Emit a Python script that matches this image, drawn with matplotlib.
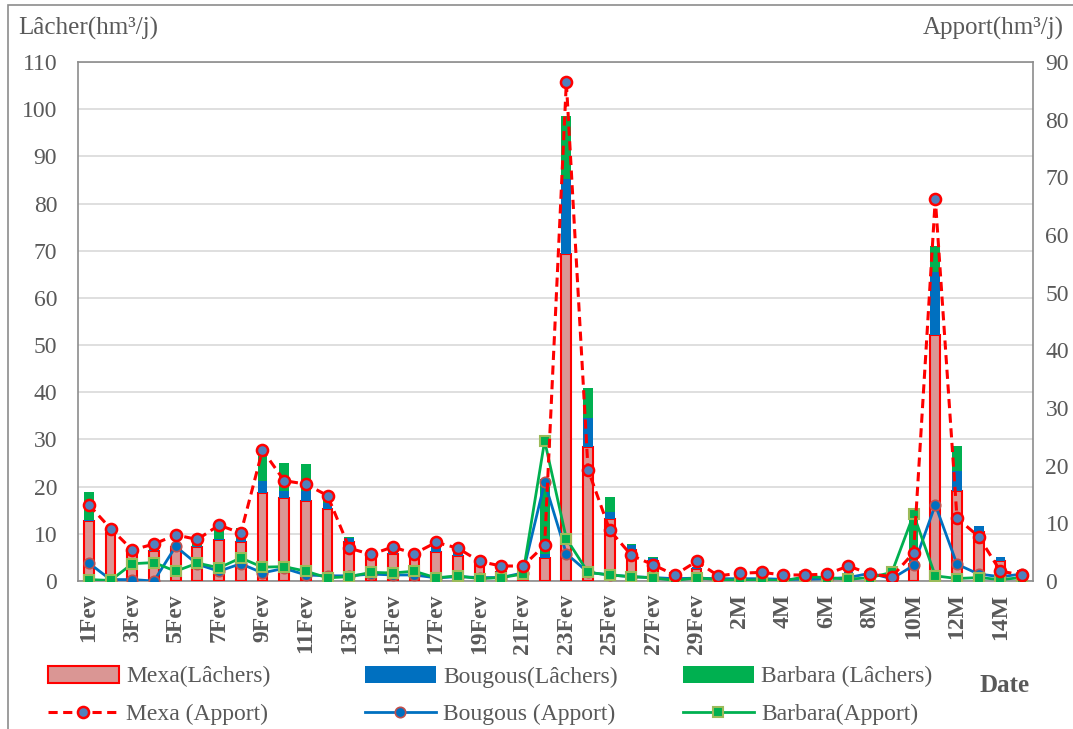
import numpy as np
import matplotlib
matplotlib.use('Agg')
import matplotlib.pyplot as plt
from matplotlib.patches import Patch, Rectangle
from matplotlib.lines import Line2D

plt.rcParams['font.family'] = ['Liberation Serif', 'DejaVu Serif']

# dates : 1 -> 29 février, puis 1 -> 15 mars
dates = [f"{d}Fev" for d in range(1, 30)] + [f"{d}M" for d in range(1, 16)]

# lâchers (hm3/j), barres empilées
mexa_lacher = [12.8, 10.1, 6.6, 6.4, 7.3, 7.2, 8.6, 8.2, 18.6, 17.5, 16.9, 15.2, 8.2, 5.8, 5.8,
               4.9, 6.2, 5.4, 3.5, 2.0, 1.3, 4.8, 69.2, 28.5, 13.1, 6.6, 4.2, 1.7, 2.6,
               1.3, 1.3, 1.3, 1.2, 1.0, 1.0, 1.3, 1.2, 1.2, 3.5, 52.2, 19.0, 10.3, 4.2, 1.5]
bougous_lacher = [0.2, 0.2, 0.3, 0.2, 0.3, 0.3, 0.3, 0.6, 2.5, 1.5, 2.1, 1.4, 1.0, 0.6, 1.1,
                  0.3, 1.3, 1.2, 0.8, 0.6, 0.6, 1.0, 15.9, 6.0, 1.5, 1.1, 0.7, 0.3, 0.4,
                  0.2, 0.3, 0.2, 0.2, 0.3, 0.3, 0.6, 0.5, 0.3, 1.0, 13.2, 4.3, 1.4, 0.9, 0.9]
barbara_lacher = [5.8, 0.3, 0.2, 0.2, 0.2, 1.0, 2.1, 2.4, 6.6, 6.1, 5.9, 1.3, 0.1, 0.1, 0.1,
                  0.1, 0.1, 0.1, 0.1, 0.1, 0.1, 15.9, 13.4, 6.4, 3.1, 0.1, 0.1, 0.0, 0.0,
                  0.0, 0.0, 0.0, 0.0, 0.0, 0.0, 0.0, 0.0, 0.0, 9.6, 5.7, 5.3, 0.0, 0.0, 0.0]

# apports (hm3/j), axe de droite
mexa_apport = [13.2, 9.1, 5.4, 6.4, 8.0, 7.2, 9.7, 8.3, 22.7, 17.4, 16.8, 14.8, 5.7, 4.6, 5.9,
               4.75, 6.7, 5.7, 3.4, 2.6, 2.6, 6.2, 86.5, 19.3, 8.8, 4.45, 2.8, 1.05, 3.4,
               0.9, 1.35, 1.5, 1.05, 1.05, 1.2, 2.6, 1.2, 0.75, 4.9, 66.3, 10.9, 7.7, 1.7, 1.05]
bougous_apport = [3.1, 0.25, 0.25, 0.0, 6.0, 2.9, 1.7, 3.0, 1.4, 2.2, 1.05, 0.9, 0.9, 1.2, 1.05,
                  1.05, 0.55, 0.75, 0.6, 0.6, 1.4, 17.1, 4.75, 1.5, 1.05, 0.75, 0.6, 0.4, 0.5,
                  0.4, 0.4, 0.4, 0.3, 0.3, 0.4, 0.6, 1.35, 0.4, 2.7, 13.2, 2.9, 1.2, 0.75, 1.2]
barbara_apport = [0.25, 0.1, 3.0, 3.2, 1.7, 3.1, 2.3, 4.0, 2.4, 2.5, 1.7, 0.55, 0.75, 1.5, 1.4,
                  1.7, 0.55, 0.9, 0.4, 0.6, 1.2, 24.3, 7.35, 1.5, 1.05, 0.75, 0.55, 0.1, 0.55,
                  0.25, 0.1, 0.25, 0.0, 0.75, 0.6, 0.3, 0.6, 1.5, 11.55, 0.9, 0.43, 0.6, 0.25, 0.6]

GREY = '#595959'
C_MEXA_FILL = '#DA9694'
C_RED = '#FF0000'
C_BLUE = '#0070C0'
C_GREEN = '#00B050'

x = np.arange(len(dates))
m = np.array(mexa_lacher)
b = np.array(bougous_lacher)
g = np.array(barbara_lacher)

fig = plt.figure(figsize=(10.73, 7.29), dpi=100)
ax = fig.add_axes([0.0727, 0.203, 0.89, 0.712])

# barres empilées
w = 0.45
ax.bar(x, m, w, color=C_MEXA_FILL, edgecolor=C_RED, linewidth=1.5, zorder=3)
ax.bar(x, b, w, bottom=m, color=C_BLUE, linewidth=0, zorder=3)
ax.bar(x, g, w, bottom=m + b, color=C_GREEN, linewidth=0, zorder=3)

ax.set_xlim(-0.5, len(dates) - 0.5)
ax.set_ylim(0, 110)
ax.set_yticks(range(0, 111, 10))
ax.yaxis.grid(True, color='#D9D9D9', linewidth=1.2, zorder=0)
ax.set_axisbelow(True)
ax.set_xticks(x)
ax.set_xticklabels([d if i % 2 == 0 else '' for i, d in enumerate(dates)],
                   rotation=90, fontweight='bold', fontsize=17, color=GREY)
ax.tick_params(axis='x', length=0, pad=9)
ax.tick_params(axis='y', length=0, pad=15, labelsize=17, labelcolor=GREY)
for sp in ax.spines.values():
    sp.set_color('#8C8C8C')
    sp.set_linewidth(1.2)

# courbes des apports
ax2 = ax.twinx()
ax2.set_ylim(0, 90)
ax2.set_yticks(range(0, 91, 10))
ax2.tick_params(axis='y', length=0, pad=9, labelsize=17, labelcolor=GREY)
for sp in ax2.spines.values():
    sp.set_visible(False)

ax2.plot(x, bougous_apport, color=C_BLUE, lw=2, marker='o', ms=7.5,
         mfc=C_BLUE, mec='#C0504D', mew=1.2, zorder=4)
ax2.plot(x, barbara_apport, color=C_GREEN, lw=2, marker='s', ms=7,
         mfc=C_GREEN, mec='#9BBB59', mew=1.5, zorder=4)
ax2.plot(x, mexa_apport, color=C_RED, lw=2.2, ls=(0, (3, 1.8)), marker='o', ms=8,
         mfc='#4F81BD', mec=C_RED, mew=1.8, zorder=5)

# titres des axes
fig.text(18 / 1073, 1 - 28 / 729, 'Lâcher(hm³/j)', fontsize=18, color=GREY, va='center', ha='left')
fig.text(923 / 1073, 1 - 28 / 729, 'Apport(hm³/j)', fontsize=18, color=GREY, va='center', ha='left')
fig.text(1005 / 1073, 1 - 686 / 729, 'Date', fontsize=18, fontweight='bold', color=GREY,
         va='center', ha='center')

# cadre extérieur
fig.add_artist(Rectangle((8 / 1073, -0.1), 1.2, 1 - 5 / 729 + 0.1, transform=fig.transFigure,
                         fill=False, edgecolor='#8C8C8C', linewidth=1.2))

# légendes (3 colonnes)
leg_cols = [
    (48, [Patch(facecolor=C_MEXA_FILL, edgecolor=C_RED, linewidth=1.5),
          Line2D([], [], color=C_RED, lw=2.2, ls=(0, (3, 1.8)), marker='o', ms=8,
                 mfc='#4F81BD', mec=C_RED, mew=1.8)],
     ['Mexa(Lâchers)', 'Mexa (Apport)']),
    (365, [Patch(facecolor=C_BLUE, linewidth=0),
           Line2D([], [], color=C_BLUE, lw=2, marker='o', ms=7.5, mfc=C_BLUE, mec='#C0504D', mew=1.2)],
     ['Bougous(Lâchers)', 'Bougous (Apport)']),
    (683, [Patch(facecolor=C_GREEN, linewidth=0),
           Line2D([], [], color=C_GREEN, lw=2, marker='s', ms=7, mfc=C_GREEN, mec='#9BBB59', mew=1.5)],
     ['Barbara (Lâchers)', 'Barbara(Apport)']),
]
for px, handles, labels in leg_cols:
    lg = fig.legend(handles, labels, loc='upper left', bbox_to_anchor=(px / 1073, 1 - 666 / 729),
                    frameon=False, fontsize=17, handlelength=3.0, handleheight=0.7,
                    handletextpad=0.3, labelspacing=0.68, borderaxespad=0, borderpad=0)
    for t in lg.get_texts():
        t.set_color(GREY)

fig.savefig('out.png', dpi=100)
